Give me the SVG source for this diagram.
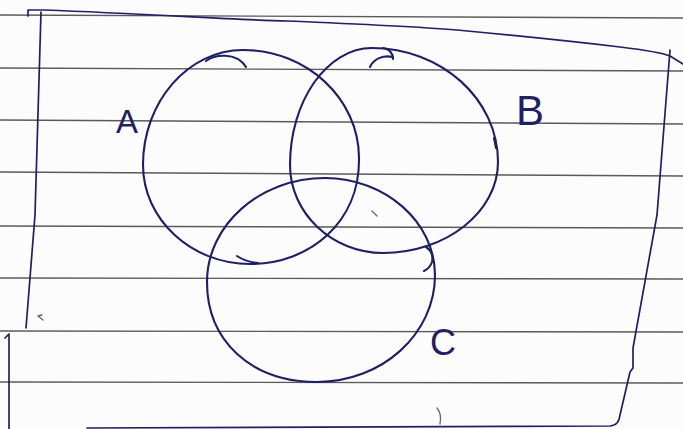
<svg xmlns="http://www.w3.org/2000/svg" width="683" height="429" viewBox="0 0 683 429">
<style>
.rule{stroke:#5a5a5a;stroke-width:1.4;fill:none}
.ink{stroke:#1f1f66;stroke-width:2.1;fill:none;stroke-linecap:round;stroke-linejoin:round}
.frame{stroke:#1f1f66;stroke-width:1.7;fill:none;stroke-linecap:round;stroke-linejoin:round}
.lbl{font-family:"Liberation Sans",Arial,sans-serif;fill:#1f1f66}
.speck{stroke:#666;stroke-width:1.3;fill:none;stroke-linecap:round}
</style>
<rect width="683" height="429" fill="#fcfcfc"/>
<g id="paper-lines">
<line class="rule" x1="0" y1="15" x2="683" y2="18"/>
<line class="rule" x1="0" y1="68" x2="683" y2="71"/>
<line class="rule" x1="0" y1="120" x2="683" y2="124"/>
<line class="rule" x1="0" y1="172" x2="683" y2="176"/>
<line class="rule" x1="0" y1="226" x2="683" y2="228"/>
<line class="rule" x1="0" y1="278" x2="683" y2="279"/>
<line class="rule" x1="0" y1="331" x2="683" y2="332"/>
<line class="rule" x1="0" y1="382" x2="683" y2="383"/>
</g>
<g id="universe-frame">
<path class="frame" d="M28,16 L28,10 L45,10 C150,14 240,20 287,21 C360,24 420,27 457,30 C520,36 560,40 620,47 C645,50 660,52 670,56 L683,64"/>
<path class="frame" d="M41,12 L35,215 L26,328"/>
<path class="frame" d="M670,50 L657,215 L633,348 L633,368 L630,372 L620,415 C619,422 617,425 610,426 L87,428"/>
<path class="frame" d="M5,338 L9,334 L9,429"/>
</g>
<g id="set-A">
<path class="ink" d="M243,50 C307,50 359,99 359,158 C360,222 310,264 250,264 C191,264 143,219 143,165 C143,102 188,50 243,50"/>
<path class="ink" d="M206,61 C214,55 236,51 246,67"/>
<path class="ink" d="M237,256 Q246,262 258,263"/>
<text class="lbl" x="116" y="133" font-size="33">A</text>
</g>
<g id="set-B">
<path class="ink" d="M372,48 C441,48 498,99 498,162 C498,212 446,253 383,253 C332,253 290,213 290,165 C290,101 327,48 372,48"/>
<path class="ink" d="M370,67 C374,58 384,55 393,57"/>
<path class="ink" d="M383,48 Q393,50 393,59"/>
<path class="ink" d="M494,138 L496,148"/>
<text class="lbl" x="516" y="125" font-size="42">B</text>
</g>
<g id="set-C">
<path class="ink" d="M325,178 C385,178 435,222 435,275 C435,334 382,382 317,382 C250,382 207,340 207,282 C207,225 260,178 325,178"/>
<path class="ink" d="M426,247 Q434,252 432,262 Q430,268 424,271"/>
<text class="lbl" x="430" y="355" font-size="36">C</text>
</g>
<g id="marks">
<path class="speck" d="M372,211 L377,216"/>
<path class="speck" d="M437,408 Q442,414 440,424"/>
<path class="speck" d="M38,316 L43,320 M38,316 L42,315"/>
</g>
</svg>
